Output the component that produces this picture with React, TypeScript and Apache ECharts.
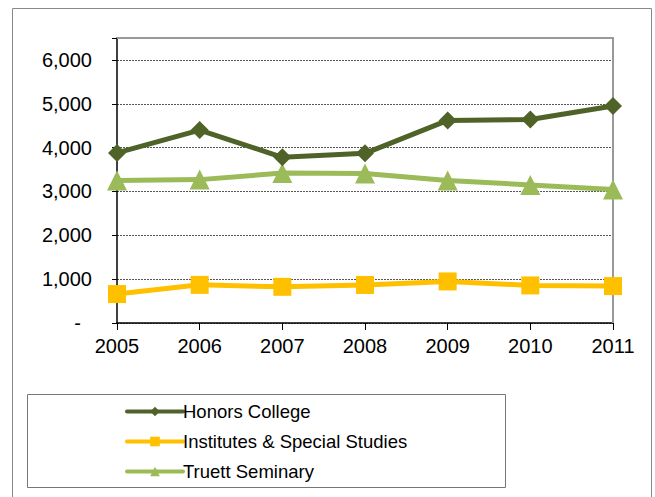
import React, { useEffect, useRef } from "react";
import * as echarts from "echarts";

const years = ["2005", "2006", "2007", "2008", "2009", "2010", "2011"];
const honorsCollege = [3880, 4400, 3780, 3870, 4620, 4640, 4950];
const institutes = [660, 870, 825, 868, 948, 857, 842];
const truettSeminary = [3250, 3270, 3420, 3410, 3250, 3150, 3045];
const yTicks = [0, 1000, 2000, 3000, 4000, 5000, 6000];

const FONT = "'Liberation Sans', Arial, sans-serif";

export default function App() {
  const ref = useRef<HTMLDivElement>(null);
  useEffect(() => {
    document.body.style.margin = "0";
    const chart = echarts.init(ref.current!, undefined, { renderer: "svg" });
    const fmt = (v: number) => {
      if (v === 0) return "{d|-}";
      if (!yTicks.includes(v)) return "";
      return v.toLocaleString("en-US");
    };
    chart.setOption({
      animation: false,
      backgroundColor: "#ffffff",
      textStyle: { fontFamily: FONT },
      grid: { left: 117, right: 42, top: 38, bottom: 174, show: false },
      xAxis: {
        type: "category",
        data: years,
        boundaryGap: false,
        axisLine: { lineStyle: { color: "#000", width: 1.5 } },
        axisTick: { show: true, length: 7, lineStyle: { color: "#000" } },
        axisLabel: { color: "#000", fontSize: 20, fontFamily: FONT, margin: 13 },
        splitLine: { show: false },
      },
      yAxis: {
        type: "value",
        min: 0,
        max: 6500,
        interval: 1000,
        axisLine: { show: true, lineStyle: { color: "#000", width: 1.5 } },
        axisTick: { show: true, length: 5, lineStyle: { color: "#000" } },
        axisLabel: {
          color: "#000",
          fontSize: 20,
          fontFamily: FONT,
          margin: 25,
          formatter: fmt,
          rich: { d: { fontSize: 20, fontFamily: FONT, color: "#000", padding: [0, 11, 0, 0] } },
        },
        splitLine: { show: true, lineStyle: { color: "#555", width: 1, type: [2, 1] } },
      },
      legend: {
        orient: "vertical",
        left: 120,
        top: 396,
        itemWidth: 56,
        itemHeight: 12,
        itemGap: 9,
        lineStyle: { width: 4, cap: "round" },
        textStyle: { color: "#000", fontSize: 18.5, fontFamily: FONT, lineHeight: 21, padding: [0, 0, 0, -5] },
        data: ["Honors College", "Institutes & Special Studies", "Truett Seminary"],
      },
      graphic: [
        {
          type: "rect",
          shape: { x: 12.5, y: 8.5, width: 639, height: 520 },
          style: { fill: "none", stroke: "#888", lineWidth: 1 },
          silent: true,
          z: -10,
        },
        {
          type: "rect",
          shape: { x: 27.5, y: 394.5, width: 478, height: 93 },
          style: { fill: "none", stroke: "#777", lineWidth: 1 },
          silent: true,
        },
        {
          type: "polyline",
          shape: { points: [[117, 38], [613, 38], [613, 323]] },
          style: { fill: "none", stroke: "#999", lineWidth: 2 },
          silent: true,
          z: 1,
        },
      ],
      series: [
        {
          name: "Honors College",
          type: "line",
          data: honorsCollege,
          symbol: "diamond",
          symbolSize: 18,
          lineStyle: { color: "#4f6228", width: 5, cap: "round" },
          itemStyle: { color: "#4f6228" },
          z: 4,
        },
        {
          name: "Institutes & Special Studies",
          type: "line",
          data: institutes,
          symbol: "rect",
          symbolSize: 18,
          lineStyle: { color: "#ffc000", width: 5, cap: "round" },
          itemStyle: { color: "#ffc000" },
          z: 3,
        },
        {
          name: "Truett Seminary",
          type: "line",
          data: truettSeminary,
          symbol: "triangle",
          symbolSize: 20,
          lineStyle: { color: "#9bbb59", width: 5, cap: "round" },
          itemStyle: { color: "#9bbb59" },
          z: 2,
        },
      ],
    });
    return () => chart.dispose();
  }, []);
  return <div ref={ref} style={{ width: 655, height: 497, position: "absolute", left: 0, top: 0 }} />;
}
